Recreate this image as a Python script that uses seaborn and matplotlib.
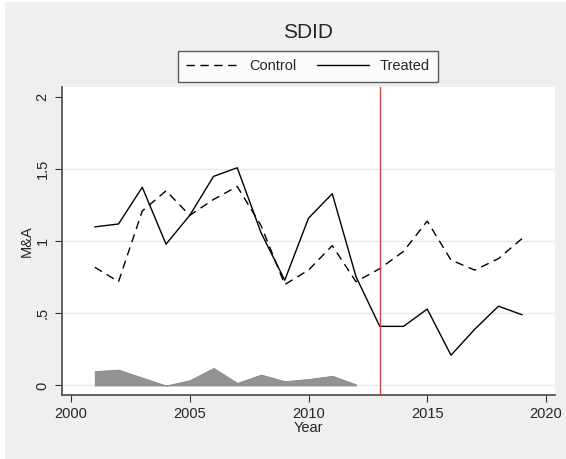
"""
SDID trends plot: control vs treated M&A with time weights
"""
import numpy as np
import pandas as pd
import matplotlib
matplotlib.use('Agg')
import matplotlib.pyplot as plt
import seaborn as sns
from matplotlib.lines import Line2D

years = list(range(2001, 2020))
control = [0.82, 0.72, 1.21, 1.35, 1.18, 1.29, 1.38, 1.11, 0.70, 0.80,
           0.97, 0.72, 0.81, 0.93, 1.14, 0.87, 0.80, 0.88, 1.02]
treated = [1.10, 1.12, 1.375, 0.98, 1.18, 1.45, 1.51, 1.06, 0.73, 1.16,
           1.33, 0.755, 0.41, 0.41, 0.53, 0.21, 0.39, 0.55, 0.49]
weight_years = list(range(2001, 2013))
weights = [0.10, 0.11, 0.055, 0.0, 0.037, 0.122, 0.018, 0.076, 0.03, 0.045,
           0.067, 0.008]
treat_year = 2013

df = pd.DataFrame({'Year': years, 'Control': control, 'Treated': treated})
long = df.melt(id_vars='Year', var_name='group', value_name='M&A')

sns.set_style('white')
plt.rcParams['font.family'] = ['Liberation Sans', 'DejaVu Sans']

fig = plt.figure(figsize=(5.66, 4.59), dpi=100)
fig.patch.set_facecolor('white')
# stata-like grey outer region
fig.patches.append(plt.Rectangle((5 / 566, 0), 1, 1 - 2 / 459, transform=fig.transFigure,
                                 facecolor='#efefef', edgecolor='none', zorder=-10))
ax = fig.add_axes([62 / 566, 1 - 395 / 459, (555 - 62) / 566, (395 - 87) / 459])
ax.set_facecolor('white')

# weights area
ax.fill_between(weight_years, 0, weights, color='#939393', linewidth=0.6,
                edgecolor='#888888', zorder=2)

sns.lineplot(data=long, x='Year', y='M&A', style='group',
             style_order=['Control', 'Treated'],
             dashes={'Control': (6, 4), 'Treated': ''},
             color='black', linewidth=1.0, ax=ax, legend=False, zorder=3)

ax.axvline(treat_year, color='#ff3030', linewidth=1.0, zorder=4)

ax.set_xlim(1999.62, 2020.38)
ax.set_ylim(-0.066, 2.07)
ax.set_xticks([2000, 2005, 2010, 2015, 2020])
ax.set_yticks([0, 0.5, 1, 1.5, 2])
ax.set_yticklabels(['0', '.5', '1', '1.5', '2'], rotation=90, va='center')
for y in [0, 0.5, 1, 1.5]:
    ax.axhline(y, color='#e8e8e8', linewidth=1.0, zorder=1)

for s in ['top', 'right']:
    ax.spines[s].set_visible(False)
for s in ['left', 'bottom']:
    ax.spines[s].set_color('#4a4a4a')
    ax.spines[s].set_linewidth(1.2)
ax.tick_params(axis='both', which='major', length=5, width=0.8, color='#333333',
               labelsize=10.5, pad=4, direction='out', bottom=True, left=True)
ax.set_xlabel('Year', fontsize=10.5, labelpad=0)
ax.set_ylabel('M&A', fontsize=10.5, labelpad=1)

fig.text(308 / 566, 1 - 33 / 459, 'SDID', ha='center', va='center', fontsize=15)

# legend
handles = [Line2D([], [], color='black', linestyle=(0, (6, 4)), linewidth=1.0),
           Line2D([], [], color='black', linewidth=1.0)]
leg = fig.legend(handles, ['Control', 'Treated'], loc='center',
                 bbox_to_anchor=(308 / 566, 1 - 66.5 / 459), ncol=2, frameon=True,
                 fancybox=False, edgecolor='#333333', fontsize=10.5,
                 handlelength=3.6, columnspacing=1.4, handletextpad=0.7,
                 borderpad=0.55, borderaxespad=0)
leg.get_frame().set_linewidth(1.0)

plt.savefig('out.png', dpi=100)
